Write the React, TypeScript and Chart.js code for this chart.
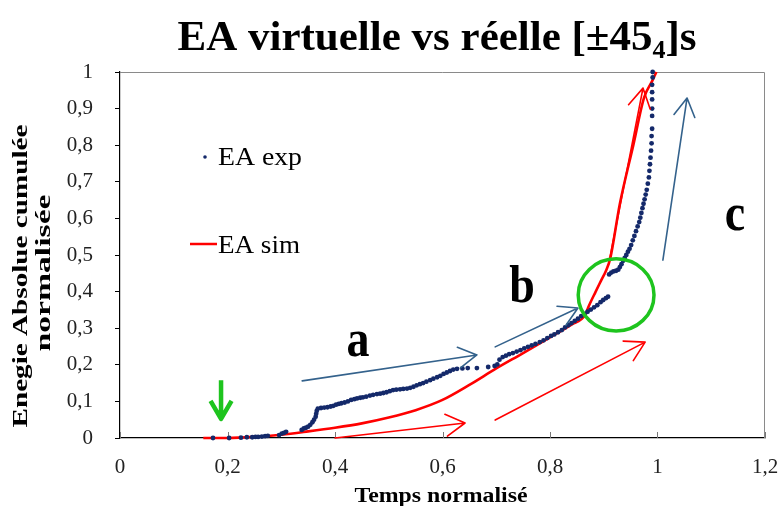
import React, { useEffect, useRef } from "react";
import { Chart, registerables } from "chart.js";
Chart.register(...registerables);

const W = 781;
const H = 506;

// ---------- data ----------
const titleMain = "EA virtuelle vs réelle [±45";
const titleSub = "4";
const titleEnd = "]s";
const xAxisTitle = "Temps normalisé";
const yAxisTitle = ["Enegie Absolue cumulée", "normalisée"];
const expLabel = "EA exp";
const simLabel = "EA sim";

const xMin = 0, xMax = 1.2, xStep = 0.2;
const yMin = 0, yMax = 1, yStep = 0.1;

const expX = [
  0.173, 0.203, 0.225, 0.236, 0.246, 0.252, 0.257, 0.264, 0.270, 0.275,
  0.296, 0.301, 0.305, 0.309, 0.338, 0.342, 0.346, 0.350, 0.354, 0.358,
  0.361, 0.364, 0.365, 0.366, 0.368, 0.374, 0.380, 0.386, 0.392, 0.397,
  0.402, 0.407, 0.412, 0.418, 0.424, 0.430, 0.436, 0.441, 0.447, 0.452,
  0.458, 0.465, 0.471, 0.478, 0.484, 0.490, 0.496, 0.502, 0.508, 0.514,
  0.521, 0.527, 0.534, 0.540, 0.546, 0.552, 0.558, 0.564, 0.570, 0.577,
  0.583, 0.590, 0.596, 0.602, 0.608, 0.614, 0.620, 0.627, 0.637, 0.647,
  0.664, 0.685, 0.697, 0.702, 0.706, 0.712, 0.718, 0.724, 0.731, 0.738,
  0.745, 0.752, 0.759, 0.766, 0.773, 0.781, 0.788, 0.795, 0.802, 0.808,
  0.815, 0.822, 0.828, 0.834, 0.840, 0.846, 0.852, 0.858, 0.864, 0.870,
  0.876, 0.882, 0.888, 0.894, 0.899, 0.904, 0.908,
  0.910, 0.914, 0.918, 0.923, 0.927, 0.930, 0.933, 0.936, 0.939, 0.942,
  0.945, 0.948, 0.951, 0.954, 0.957, 0.960, 0.963, 0.966, 0.968, 0.970,
  0.972, 0.974, 0.976, 0.978, 0.980, 0.982, 0.984, 0.985, 0.986, 0.987,
  0.988, 0.989, 0.989, 0.990, 0.990, 0.990, 0.990, 0.990, 0.990, 0.991,
  0.991,
];
const expY = [
  0.000, 0.000, 0.001, 0.002, 0.002, 0.003, 0.003, 0.004, 0.005, 0.006,
  0.008, 0.012, 0.014, 0.017, 0.022, 0.026, 0.028, 0.031, 0.036, 0.043,
  0.050, 0.058, 0.066, 0.074, 0.080, 0.082, 0.083, 0.084, 0.086, 0.088,
  0.091, 0.093, 0.095, 0.097, 0.100, 0.104, 0.106, 0.108, 0.110, 0.111,
  0.113, 0.116, 0.118, 0.120, 0.121, 0.123, 0.125, 0.128, 0.131, 0.132,
  0.133, 0.134, 0.135, 0.137, 0.140, 0.144, 0.147, 0.150, 0.154, 0.158,
  0.162, 0.166, 0.170, 0.175, 0.179, 0.183, 0.187, 0.189, 0.190, 0.191,
  0.191, 0.194, 0.197, 0.201, 0.214, 0.221, 0.225, 0.229, 0.232, 0.236,
  0.240, 0.245, 0.249, 0.253, 0.257, 0.262, 0.267, 0.273, 0.279, 0.283,
  0.289, 0.295, 0.302, 0.308, 0.314, 0.320, 0.326, 0.333, 0.339, 0.345,
  0.351, 0.357, 0.363, 0.371, 0.377, 0.382, 0.386,
  0.447, 0.452, 0.455, 0.457, 0.460, 0.467, 0.475, 0.484, 0.492, 0.500,
  0.509, 0.517, 0.527, 0.540, 0.552, 0.565, 0.578, 0.590, 0.602, 0.615,
  0.628, 0.640, 0.652, 0.665, 0.678, 0.695, 0.712, 0.730, 0.748, 0.766,
  0.785, 0.805, 0.825, 0.845, 0.880, 0.900, 0.925, 0.945, 0.965, 0.985,
  1.000,
];

const simX = [
  0.155, 0.2, 0.25, 0.3, 0.35, 0.4, 0.45, 0.5, 0.55, 0.6,
  0.65, 0.7, 0.75, 0.8, 0.84, 0.865, 0.872, 0.885, 0.895, 0.905,
  0.912, 0.93, 0.955, 0.975, 0.99, 0.998,
];
const simY = [
  0.0, 0.0, 0.003, 0.009, 0.018, 0.028, 0.04, 0.056, 0.076, 0.104,
  0.145, 0.19, 0.232, 0.275, 0.31, 0.335, 0.36, 0.4, 0.43, 0.46,
  0.49, 0.64, 0.8, 0.93, 0.975, 1.0,
];

// annotations (data units): [x1, y1, x2, y2]
const blueArrows = [
  [0.339, 0.156, 0.664, 0.227],
  [0.698, 0.249, 0.852, 0.355],
  [1.01, 0.486, 1.055, 0.929],
];
const redArrows = [
  [0.4, 0.0, 0.642, 0.041],
  [0.698, 0.049, 0.977, 0.262],
  [0.91, 0.481, 0.973, 0.956],
];
const greenArrow = [0.188, 0.158, 0.188, 0.052];
const greenCircle = [0.923, 0.391, 0.0705, 0.0985]; // cx, cy, rx, ry
const letterTexts = ["a", "b", "c"];
const letterX = [0.443, 0.748, 1.144];
const letterY = [0.224, 0.372, 0.568];

// ---------- helpers ----------
const SERIF = '"Liberation Serif", "Times New Roman", serif';
const fmt = (v: number) => String(Math.round(v * 10) / 10).replace(".", ",");

function drawArrow(ctx: CanvasRenderingContext2D, x1: number, y1: number, x2: number, y2: number, head: number) {
  const ang = Math.atan2(y2 - y1, x2 - x1);
  const a = (30 * Math.PI) / 180;
  ctx.beginPath();
  ctx.moveTo(x1, y1);
  ctx.lineTo(x2, y2);
  ctx.moveTo(x2 - head * Math.cos(ang - a), y2 - head * Math.sin(ang - a));
  ctx.lineTo(x2, y2);
  ctx.lineTo(x2 - head * Math.cos(ang + a), y2 - head * Math.sin(ang + a));
  ctx.stroke();
}

function fitText(ctx: CanvasRenderingContext2D, text: string, x: number, y: number, width: number, align: "left" | "center") {
  const m = ctx.measureText(text).width;
  const s = width / m;
  ctx.save();
  ctx.translate(x, y);
  ctx.scale(s, 1);
  ctx.textAlign = align;
  ctx.fillText(text, 0, 0);
  ctx.restore();
}

const overlay = {
  id: "overlay",
  beforeDraw(chart: any) {
    const { ctx } = chart;
    ctx.save();
    ctx.fillStyle = "#fff";
    ctx.fillRect(0, 0, chart.width, chart.height);
    ctx.restore();
  },
  beforeDatasetsDraw(chart: any) {
    const { ctx, chartArea: ca, scales } = chart;
    ctx.save();
    // top/right frame
    ctx.strokeStyle = "#8a8a8a";
    ctx.lineWidth = 1;
    ctx.beginPath();
    ctx.moveTo(ca.left, ca.top + 0.5);
    ctx.lineTo(ca.right - 0.5, ca.top + 0.5);
    ctx.lineTo(ca.right - 0.5, ca.bottom);
    ctx.stroke();
    // inner x ticks
    ctx.strokeStyle = "#777";
    scales.x.ticks.forEach((t: any) => {
      const px = Math.round(scales.x.getPixelForValue(t.value)) + 0.5;
      ctx.beginPath();
      ctx.moveTo(px, ca.bottom);
      ctx.lineTo(px, ca.bottom - 6);
      ctx.stroke();
    });
    ctx.restore();
  },
  afterDatasetsDraw(chart: any) {
    const { ctx, chartArea: ca, scales } = chart;
    const X = (v: number) => scales.x.getPixelForValue(v);
    const Y = (v: number) => scales.y.getPixelForValue(v);
    ctx.save();
    ctx.lineCap = "round";
    ctx.lineJoin = "round";
    // blue arrows
    ctx.strokeStyle = "#34628c";
    ctx.lineWidth = 1.6;
    blueArrows.forEach((a) => drawArrow(ctx, X(a[0]), Y(a[1]), X(a[2]), Y(a[3]), 21));
    // red arrows
    ctx.strokeStyle = "#ff0000";
    ctx.lineWidth = 1.6;
    redArrows.forEach((a) => drawArrow(ctx, X(a[0]), Y(a[1]), X(a[2]), Y(a[3]), 22));
    // green arrow
    ctx.strokeStyle = "#1ec41e";
    ctx.lineWidth = 4.5;
    ctx.lineCap = "butt";
    drawArrow(ctx, X(greenArrow[0]), Y(greenArrow[1]), X(greenArrow[2]), Y(greenArrow[3]), 21);
    // green circle
    ctx.lineWidth = 3.5;
    ctx.beginPath();
    const cx = X(greenCircle[0]), cy = Y(greenCircle[1]);
    const rx = X(greenCircle[0] + greenCircle[2]) - cx;
    const ry = cy - Y(greenCircle[1] + greenCircle[3]);
    ctx.ellipse(cx, cy, rx, ry, 0, 0, Math.PI * 2);
    ctx.stroke();
    // letters
    ctx.fillStyle = "#000";
    ctx.font = `bold 46px ${SERIF}`;
    ctx.textAlign = "center";
    ctx.textBaseline = "alphabetic";
    letterTexts.forEach((t, i) => {
      ctx.save();
      ctx.translate(X(letterX[i]), Y(letterY[i]));
      ctx.scale(1, 1.15);
      ctx.fillText(t, 0, 0);
      ctx.restore();
    });
    // legend
    ctx.fillStyle = "#14296a";
    ctx.beginPath();
    ctx.arc(ca.left + 85, ca.top + 85, 1.8, 0, Math.PI * 2);
    ctx.fill();
    ctx.strokeStyle = "#ff0000";
    ctx.lineWidth = 2.5;
    ctx.lineCap = "butt";
    ctx.beginPath();
    ctx.moveTo(ca.left + 70, ca.top + 172);
    ctx.lineTo(ca.left + 97, ca.top + 172);
    ctx.stroke();
    ctx.fillStyle = "#000";
    ctx.font = `25px ${SERIF}`;
    fitText(ctx, chart.data.datasets[0].label, ca.left + 98, ca.top + 93, 84, "left");
    fitText(ctx, chart.data.datasets[1].label, ca.left + 98, ca.top + 181, 82, "left");
    ctx.restore();
  },
  afterDraw(chart: any) {
    const { ctx } = chart;
    ctx.save();
    ctx.fillStyle = "#000";
    ctx.textBaseline = "alphabetic";
    // main title with subscript
    const big = `bold 43px ${SERIF}`;
    const small = `bold 26px ${SERIF}`;
    ctx.font = big;
    const w1 = ctx.measureText(titleMain).width;
    const w3 = ctx.measureText(titleEnd).width;
    ctx.font = small;
    const w2 = ctx.measureText(titleSub).width;
    const total = w1 + w2 + w3;
    let x = 437 - total / 2;
    const base = 50;
    ctx.textAlign = "left";
    ctx.font = big;
    ctx.fillText(titleMain, x, base);
    x += w1;
    ctx.font = small;
    ctx.fillText(titleSub, x, base + 8);
    x += w2;
    ctx.font = big;
    ctx.fillText(titleEnd, x, base);
    // x axis title
    ctx.font = `bold 20px ${SERIF}`;
    fitText(ctx, xAxisTitle, 441, 502, 173, "center");
    // y axis title
    ctx.save();
    ctx.rotate(-Math.PI / 2);
    ctx.font = `bold 20px ${SERIF}`;
    ctx.textBaseline = "middle";
    fitText(ctx, yAxisTitle[0], -276, 22, 303, "center");
    fitText(ctx, yAxisTitle[1], -273, 45, 157, "center");
    ctx.restore();
    ctx.restore();
  },
};

export default function App() {
  const ref = useRef<HTMLCanvasElement | null>(null);
  useEffect(() => {
    const canvas = ref.current!;
    const chart = new Chart(canvas, {
      type: "scatter",
      data: {
        datasets: [
          {
            label: expLabel,
            data: expX.map((x, i) => ({ x, y: expY[i] })),
            pointRadius: 2.4,
            pointBorderWidth: 0,
            pointBackgroundColor: "#14296a",
            backgroundColor: "#14296a",
            showLine: false,
            clip: 3,
            order: 1,
          },
          {
            label: simLabel,
            data: simX.map((x, i) => ({ x, y: simY[i] })),
            showLine: true,
            borderColor: "#ff0000",
            borderWidth: 2.6,
            pointRadius: 0,
            cubicInterpolationMode: "monotone",
            clip: 3,
            order: 2,
          },
        ],
      },
      options: {
        animation: false,
        responsive: false,
        devicePixelRatio: 1,
        layout: { padding: { top: 72, right: 16, left: 0, bottom: 0 } },
        plugins: {
          legend: { display: false },
          title: { display: false },
          tooltip: { enabled: false },
        },
        scales: {
          x: {
            type: "linear",
            min: xMin,
            max: xMax,
            ticks: {
              stepSize: xStep,
              padding: 0,
              color: "#222",
              font: { family: SERIF, size: 21 },
              callback: (v: any) => fmt(Number(v)),
              maxRotation: 0,
            },
            grid: {
              display: true,
              drawOnChartArea: false,
              drawTicks: true,
              tickLength: 17,
              color: "rgba(0,0,0,0)",
            },
            border: { display: true, color: "#000", width: 1.2 },
            afterFit: (s: any) => {
              s.height = 68;
            },
          },
          y: {
            type: "linear",
            min: yMin,
            max: yMax,
            ticks: {
              stepSize: yStep,
              padding: 22,
              color: "#222",
              font: { family: SERIF, size: 21 },
              callback: (v: any) => fmt(Number(v)),
            },
            grid: { display: true, drawOnChartArea: false, drawTicks: true, tickLength: 5, color: "#000" },
            border: { display: true, color: "#000", width: 1.2 },
            afterFit: (s: any) => {
              s.width = 120;
            },
          },
        },
      },
      plugins: [overlay],
    });
    return () => chart.destroy();
  }, []);
  return (
    <div style={{ position: "fixed", left: 0, top: 0, width: W, height: H, background: "#fff" }}>
      <canvas ref={ref} width={W} height={H} style={{ display: "block", width: W, height: H }} />
    </div>
  );
}
